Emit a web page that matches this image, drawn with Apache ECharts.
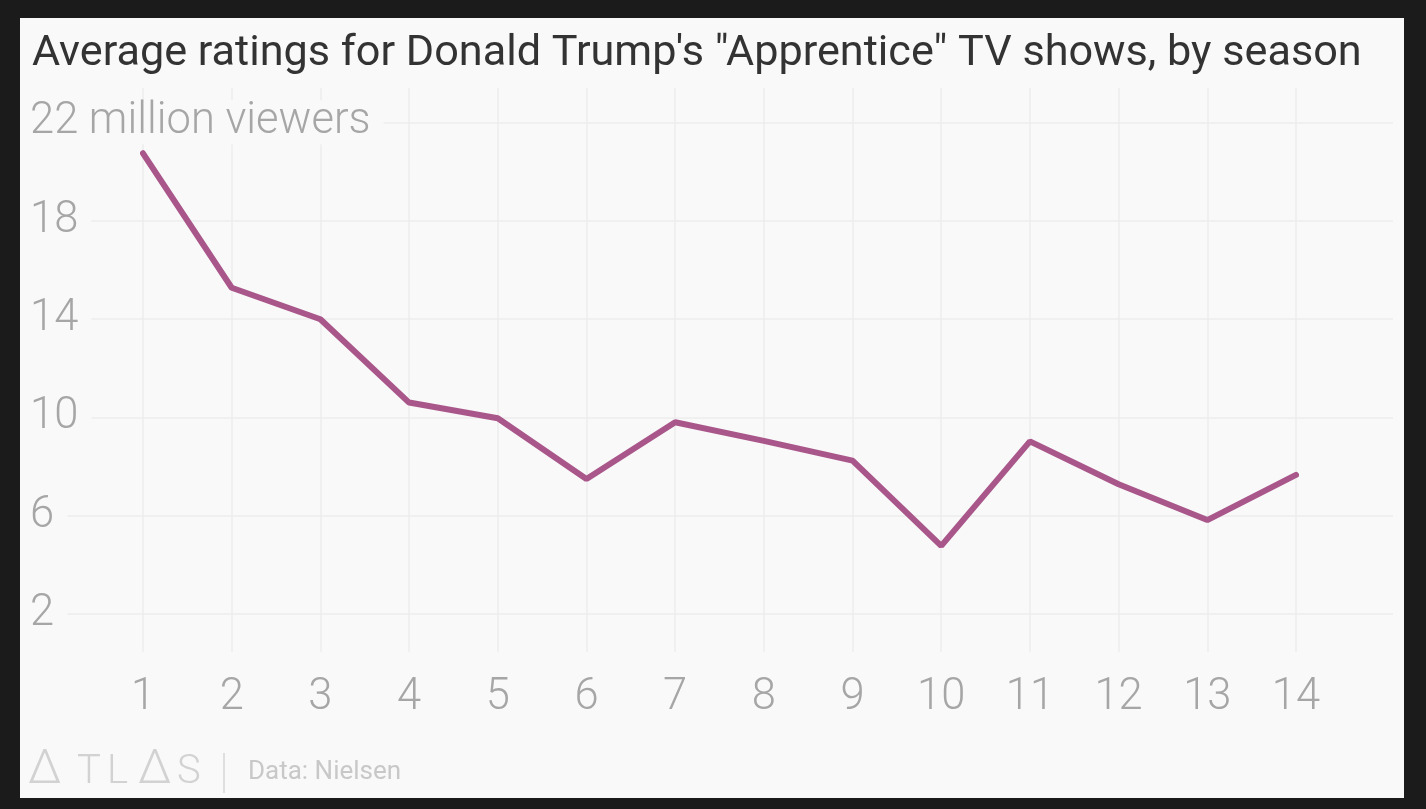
<!DOCTYPE html>
<html>
<head>
<meta charset="utf-8">
<script src="https://cdn.jsdelivr.net/npm/echarts@6/dist/echarts.min.js"></script>
<style>
  html, body { margin: 0; padding: 0; width: 1426px; height: 809px; background: #1b1b1b; overflow: hidden; }
  #chart { position: absolute; left: 20px; top: 18px; width: 1384px; height: 780px; }
</style>
</head>
<body>
<div id="chart"></div>
<script>
const seasons = ['1','2','3','4','5','6','7','8','9','10','11','12','13','14'];
const viewers = [20.74, 15.27, 13.99, 10.6, 9.96, 7.49, 9.8, 9.04, 8.24, 4.77, 9.02, 7.28, 5.82, 7.66];
const yTicks = [2, 6, 10, 14, 18, 22];
const titleText = 'Average ratings for Donald Trump\'s "Apprentice" TV shows, by season';
const unitLabel = 'million viewers';
const sourceText = 'Data: Nielsen';
const logoLetters = ['Δ', 'T', 'L', 'Δ', 'S'];

const chart = echarts.init(document.getElementById('chart'));
const bg = '#f9f9f9';
const gridColor = '#ececec';
const tickColor = '#a6a6a6';
const pxPerUnit = 491.7 / 20;
const yMinA = 2 - 38 / pxPerUnit;
const yMaxA = 22 + 34.3 / pxPerUnit;

const logoX = [8, 57, 87, 118, 157];
const logoSize = [48, 40, 40, 48, 40];
const logoTop = [729, 735, 735, 729, 735];
const graphics = logoLetters.map((ch, i) => ({
  type: 'text', left: logoX[i], top: logoTop[i],
  style: { text: ch, font: '300 ' + logoSize[i] + 'px Roboto', fill: '#d2d2d2' }
}));
graphics.push({ type: 'line', shape: { x1: 204, y1: 735, x2: 204, y2: 775 }, style: { stroke: '#d6d6d6', lineWidth: 1.5 } });
graphics.push({ type: 'text', left: 228, top: 741, style: { text: sourceText, font: '400 26px Roboto', fill: '#c8c8c8' } });

chart.setOption({
  backgroundColor: bg,
  animation: false,
  title: {
    text: titleText, left: 7, top: 10,
    textStyle: { fontFamily: 'Roboto', fontSize: 43.2, fontWeight: 400, color: '#333333' }
  },
  graphic: graphics,
  grid: [
    { left: 123, width: 1153, top: 70, height: 564 },
    { left: 0, width: 1373, top: 104.3, height: 491.7 }
  ],
  xAxis: [
    {
      type: 'category', gridIndex: 0, data: seasons, boundaryGap: false,
      axisLine: { show: false }, axisTick: { show: false },
      splitLine: { show: true, lineStyle: { color: gridColor, width: 1.5 } },
      axisLabel: { color: tickColor, fontFamily: 'Roboto', fontWeight: 300, fontSize: 43.5, lineHeight: 44, margin: 24 }
    },
    { type: 'value', gridIndex: 1, show: false, min: 0, max: 1 }
  ],
  yAxis: [
    { type: 'value', gridIndex: 0, min: yMinA, max: yMaxA, show: false },
    {
      type: 'value', gridIndex: 1, min: 2, max: 22, interval: 4, z: 5,
      axisLine: { show: false }, axisTick: { show: false },
      splitLine: { show: true, lineStyle: { color: gridColor, width: 1.5 } },
      axisLabel: {
        inside: true, align: 'left', margin: 0,
        color: tickColor, fontFamily: 'Roboto', fontWeight: 300, fontSize: 43.5, lineHeight: 44,
        backgroundColor: bg, padding: [0, 13, 0, 7],
        formatter: v => (v === 22 ? v + ' ' + unitLabel : String(v))
      }
    }
  ],
  series: [{
    type: 'line', xAxisIndex: 0, yAxisIndex: 0, data: viewers,
    symbol: 'none', z: 10,
    lineStyle: { color: '#a9578a', width: 6, cap: 'round' }
  }]
});
</script>
</body>
</html>
